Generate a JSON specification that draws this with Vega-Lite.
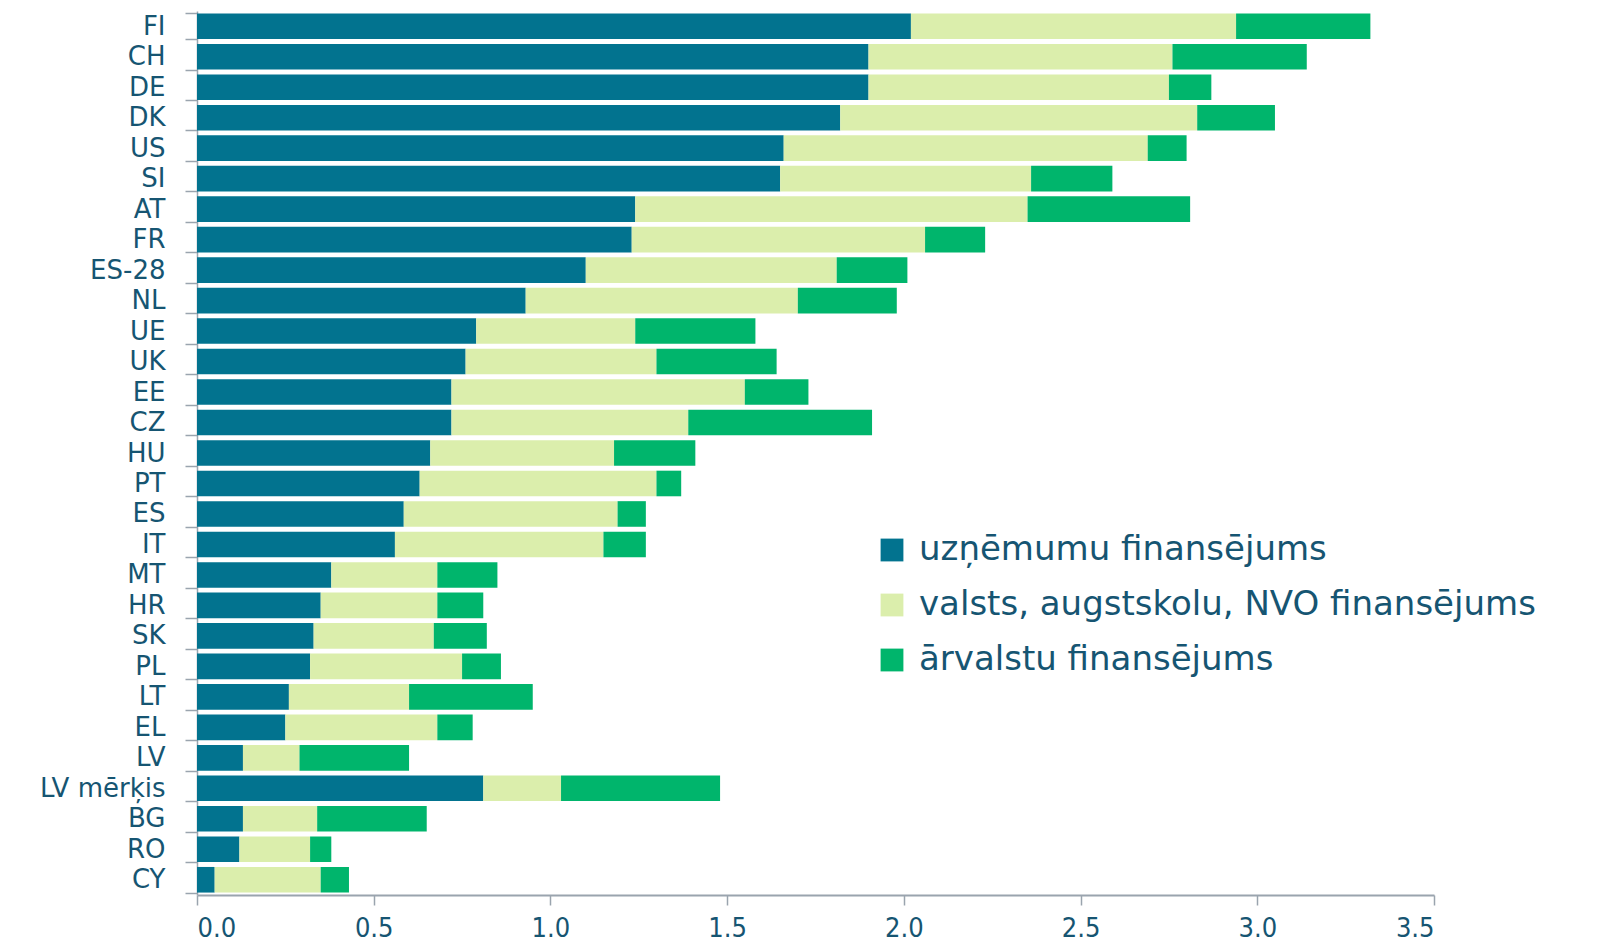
{
  "$schema": "https://vega.github.io/schema/vega-lite/v6.json",
  "autosize": {"type": "none"},
  "padding": {"left": 197, "top": 11, "right": 171, "bottom": 49},
  "width": 1237,
  "height": 884,
  "background": "white",
  "data": {"values": [
    {"c":"FI","s":"uzņēmumu finansējums","k":1,"v":2.02},{"c":"FI","s":"valsts, augstskolu, NVO finansējums","k":2,"v":0.92},{"c":"FI","s":"ārvalstu finansējums","k":3,"v":0.38},
    {"c":"CH","s":"uzņēmumu finansējums","k":1,"v":1.90},{"c":"CH","s":"valsts, augstskolu, NVO finansējums","k":2,"v":0.86},{"c":"CH","s":"ārvalstu finansējums","k":3,"v":0.38},
    {"c":"DE","s":"uzņēmumu finansējums","k":1,"v":1.90},{"c":"DE","s":"valsts, augstskolu, NVO finansējums","k":2,"v":0.85},{"c":"DE","s":"ārvalstu finansējums","k":3,"v":0.12},
    {"c":"DK","s":"uzņēmumu finansējums","k":1,"v":1.82},{"c":"DK","s":"valsts, augstskolu, NVO finansējums","k":2,"v":1.01},{"c":"DK","s":"ārvalstu finansējums","k":3,"v":0.22},
    {"c":"US","s":"uzņēmumu finansējums","k":1,"v":1.66},{"c":"US","s":"valsts, augstskolu, NVO finansējums","k":2,"v":1.03},{"c":"US","s":"ārvalstu finansējums","k":3,"v":0.11},
    {"c":"SI","s":"uzņēmumu finansējums","k":1,"v":1.65},{"c":"SI","s":"valsts, augstskolu, NVO finansējums","k":2,"v":0.71},{"c":"SI","s":"ārvalstu finansējums","k":3,"v":0.23},
    {"c":"AT","s":"uzņēmumu finansējums","k":1,"v":1.24},{"c":"AT","s":"valsts, augstskolu, NVO finansējums","k":2,"v":1.11},{"c":"AT","s":"ārvalstu finansējums","k":3,"v":0.46},
    {"c":"FR","s":"uzņēmumu finansējums","k":1,"v":1.23},{"c":"FR","s":"valsts, augstskolu, NVO finansējums","k":2,"v":0.83},{"c":"FR","s":"ārvalstu finansējums","k":3,"v":0.17},
    {"c":"ES-28","s":"uzņēmumu finansējums","k":1,"v":1.10},{"c":"ES-28","s":"valsts, augstskolu, NVO finansējums","k":2,"v":0.71},{"c":"ES-28","s":"ārvalstu finansējums","k":3,"v":0.20},
    {"c":"NL","s":"uzņēmumu finansējums","k":1,"v":0.93},{"c":"NL","s":"valsts, augstskolu, NVO finansējums","k":2,"v":0.77},{"c":"NL","s":"ārvalstu finansējums","k":3,"v":0.28},
    {"c":"UE","s":"uzņēmumu finansējums","k":1,"v":0.79},{"c":"UE","s":"valsts, augstskolu, NVO finansējums","k":2,"v":0.45},{"c":"UE","s":"ārvalstu finansējums","k":3,"v":0.34},
    {"c":"UK","s":"uzņēmumu finansējums","k":1,"v":0.76},{"c":"UK","s":"valsts, augstskolu, NVO finansējums","k":2,"v":0.54},{"c":"UK","s":"ārvalstu finansējums","k":3,"v":0.34},
    {"c":"EE","s":"uzņēmumu finansējums","k":1,"v":0.72},{"c":"EE","s":"valsts, augstskolu, NVO finansējums","k":2,"v":0.83},{"c":"EE","s":"ārvalstu finansējums","k":3,"v":0.18},
    {"c":"CZ","s":"uzņēmumu finansējums","k":1,"v":0.72},{"c":"CZ","s":"valsts, augstskolu, NVO finansējums","k":2,"v":0.67},{"c":"CZ","s":"ārvalstu finansējums","k":3,"v":0.52},
    {"c":"HU","s":"uzņēmumu finansējums","k":1,"v":0.66},{"c":"HU","s":"valsts, augstskolu, NVO finansējums","k":2,"v":0.52},{"c":"HU","s":"ārvalstu finansējums","k":3,"v":0.23},
    {"c":"PT","s":"uzņēmumu finansējums","k":1,"v":0.63},{"c":"PT","s":"valsts, augstskolu, NVO finansējums","k":2,"v":0.67},{"c":"PT","s":"ārvalstu finansējums","k":3,"v":0.07},
    {"c":"ES","s":"uzņēmumu finansējums","k":1,"v":0.585},{"c":"ES","s":"valsts, augstskolu, NVO finansējums","k":2,"v":0.605},{"c":"ES","s":"ārvalstu finansējums","k":3,"v":0.08},
    {"c":"IT","s":"uzņēmumu finansējums","k":1,"v":0.56},{"c":"IT","s":"valsts, augstskolu, NVO finansējums","k":2,"v":0.59},{"c":"IT","s":"ārvalstu finansējums","k":3,"v":0.12},
    {"c":"MT","s":"uzņēmumu finansējums","k":1,"v":0.38},{"c":"MT","s":"valsts, augstskolu, NVO finansējums","k":2,"v":0.30},{"c":"MT","s":"ārvalstu finansējums","k":3,"v":0.17},
    {"c":"HR","s":"uzņēmumu finansējums","k":1,"v":0.35},{"c":"HR","s":"valsts, augstskolu, NVO finansējums","k":2,"v":0.33},{"c":"HR","s":"ārvalstu finansējums","k":3,"v":0.13},
    {"c":"SK","s":"uzņēmumu finansējums","k":1,"v":0.33},{"c":"SK","s":"valsts, augstskolu, NVO finansējums","k":2,"v":0.34},{"c":"SK","s":"ārvalstu finansējums","k":3,"v":0.15},
    {"c":"PL","s":"uzņēmumu finansējums","k":1,"v":0.32},{"c":"PL","s":"valsts, augstskolu, NVO finansējums","k":2,"v":0.43},{"c":"PL","s":"ārvalstu finansējums","k":3,"v":0.11},
    {"c":"LT","s":"uzņēmumu finansējums","k":1,"v":0.26},{"c":"LT","s":"valsts, augstskolu, NVO finansējums","k":2,"v":0.34},{"c":"LT","s":"ārvalstu finansējums","k":3,"v":0.35},
    {"c":"EL","s":"uzņēmumu finansējums","k":1,"v":0.25},{"c":"EL","s":"valsts, augstskolu, NVO finansējums","k":2,"v":0.43},{"c":"EL","s":"ārvalstu finansējums","k":3,"v":0.10},
    {"c":"LV","s":"uzņēmumu finansējums","k":1,"v":0.13},{"c":"LV","s":"valsts, augstskolu, NVO finansējums","k":2,"v":0.16},{"c":"LV","s":"ārvalstu finansējums","k":3,"v":0.31},
    {"c":"LV mērķis","s":"uzņēmumu finansējums","k":1,"v":0.81},{"c":"LV mērķis","s":"valsts, augstskolu, NVO finansējums","k":2,"v":0.22},{"c":"LV mērķis","s":"ārvalstu finansējums","k":3,"v":0.45},
    {"c":"BG","s":"uzņēmumu finansējums","k":1,"v":0.13},{"c":"BG","s":"valsts, augstskolu, NVO finansējums","k":2,"v":0.21},{"c":"BG","s":"ārvalstu finansējums","k":3,"v":0.31},
    {"c":"RO","s":"uzņēmumu finansējums","k":1,"v":0.12},{"c":"RO","s":"valsts, augstskolu, NVO finansējums","k":2,"v":0.20},{"c":"RO","s":"ārvalstu finansējums","k":3,"v":0.06},
    {"c":"CY","s":"uzņēmumu finansējums","k":1,"v":0.05},{"c":"CY","s":"valsts, augstskolu, NVO finansējums","k":2,"v":0.30},{"c":"CY","s":"ārvalstu finansējums","k":3,"v":0.08}
  ]},
  "mark": {"type": "bar"},
  "encoding": {
    "y": {
      "field": "c", "type": "nominal",
      "sort": ["FI","CH","DE","DK","US","SI","AT","FR","ES-28","NL","UE","UK","EE","CZ","HU","PT","ES","IT","MT","HR","SK","PL","LT","EL","LV","LV mērķis","BG","RO","CY"],
      "scale": {"paddingInner": 0.16, "paddingOuter": 0.08},
      "axis": {
        "title": null, "tickBand": "extent", "tickSize": 12, "tickColor": "#9aa4ae", "tickWidth": 1.5,
        "domainColor": "#9aa4ae", "domainWidth": 1.5,
        "labelFont": "DejaVu Sans", "labelFontSize": 26, "labelColor": "#165572", "labelPadding": 20
      }
    },
    "x": {
      "field": "v", "type": "quantitative", "stack": "zero",
      "scale": {"domain": [0, 3.5], "nice": false},
      "axis": {
        "title": null, "values": [0, 0.5, 1, 1.5, 2, 2.5, 3, 3.5], "format": ".1f", "grid": false,
        "tickSize": 10, "tickColor": "#9aa4ae", "tickWidth": 1.5, "domainColor": "#9aa4ae", "domainWidth": 2,
        "labelFont": "DejaVu Sans Condensed, Lato", "labelFontSize": 27, "labelColor": "#165572", "labelPadding": 10
      }
    },
    "color": {
      "field": "s", "type": "nominal",
      "sort": ["uzņēmumu finansējums", "valsts, augstskolu, NVO finansējums", "ārvalstu finansējums"],
      "scale": {"domain": ["uzņēmumu finansējums", "valsts, augstskolu, NVO finansējums", "ārvalstu finansējums"], "range": ["#02738f", "#dbeeac", "#00b56c"]},
      "legend": {
        "title": null, "orient": "none", "legendX": 678, "legendY": 522,
        "symbolType": "square", "symbolSize": 520, "symbolStrokeWidth": 0,
        "labelFont": "DejaVu Sans", "labelFontSize": 34, "labelColor": "#165572", "labelOffset": 10,
        "rowPadding": 21, "labelLimit": 800
      }
    },
    "order": {"field": "k", "type": "quantitative"}
  },
  "config": {"view": {"stroke": null}}
}
